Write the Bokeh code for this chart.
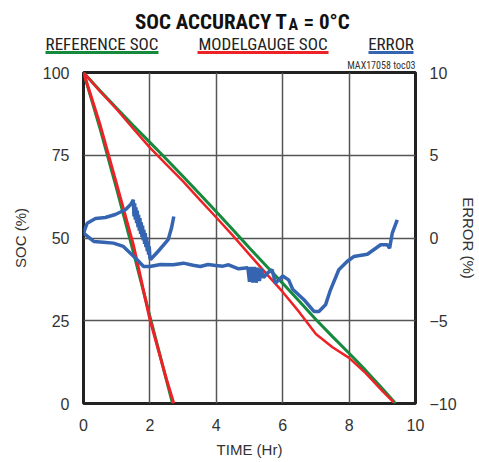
from bokeh.plotting import figure
from bokeh.layouts import column
from bokeh.models import Range1d, LinearAxis, FixedTicker, Title
from bokeh.core.properties import value
from bokeh.embed import file_html
from bokeh.resources import INLINE

# ---------------- data ----------------
# slow discharge (approx. 9.4 h)
t_ref_slow = [0, 0.5, 1.0, 1.5, 2.0, 2.5, 3.0, 3.5, 4.0, 4.5, 5.0, 5.5, 6.0, 6.5, 7.0, 7.5, 8.0, 8.5, 9.0, 9.4]
soc_ref_slow = [100, 94.5, 89.2, 84.0, 78.9, 73.8, 68.6, 63.3, 57.9, 52.5, 47.0, 41.6, 36.3, 30.9, 25.4, 20.2, 15.2, 10.0, 4.5, 0]
t_mg_slow = [0, 0.5, 1.0, 1.5, 2.0, 2.5, 3.0, 3.5, 4.0, 4.5, 5.0, 5.5, 6.0, 6.5, 7.0, 7.5, 8.0, 8.5, 9.0, 9.35]
soc_mg_slow = [100, 94.3, 88.9, 83.0, 77.3, 72.2, 67.1, 61.6, 56.2, 50.7, 45.0, 39.3, 33.7, 27.6, 21.0, 17.0, 13.8, 9.2, 3.8, 0.3]

# fast discharge (approx. 2.7 h)
t_ref_fast = [0, 0.5, 1.0, 1.5, 2.0, 2.5, 2.68]
soc_ref_fast = [100, 83.0, 64.8, 45.8, 26.3, 7.0, 0]
t_mg_fast = [0, 0.5, 1.0, 1.5, 2.0, 2.5, 2.72]
soc_mg_fast = [100, 84.2, 66.2, 48.0, 25.4, 7.3, 0]

# error curves (%)
t_err_slow = [0, 0.31, 0.6, 0.9, 1.2, 1.57, 1.81, 2.0, 2.32, 2.7, 3.01, 3.3, 3.52, 3.75, 3.98, 4.2, 4.37, 4.67,
              4.95, 5.00, 5.05, 5.10, 5.15, 5.20, 5.25, 5.30, 5.35, 5.42, 5.55, 5.68, 5.78, 6.0, 6.18, 6.3, 6.64, 6.94,
              7.09, 7.29, 7.44, 7.69, 7.94, 8.14, 8.55, 8.95, 9.15, 9.22, 9.30, 9.45]
e_err_slow = [0.29, -0.21, -0.25, -0.31, -0.51, -1.22, -1.72, -1.72, -1.60, -1.62, -1.52, -1.65, -1.72, -1.60, -1.66, -1.70, -1.62, -1.86,
              -1.80, -2.65, -1.75, -2.70, -1.75, -2.70, -1.80, -2.60, -1.85, -2.40, -2.10, -1.92, -2.73, -2.30, -2.53, -3.10, -3.73, -4.44,
              -4.44, -4.04, -3.13, -1.92, -1.42, -1.12, -0.98, -0.41, -0.41, -0.62, 0.29, 1.10]
t_err_fast = [0, 0.11, 0.36, 0.66, 0.96, 1.27, 1.42,
              1.50, 1.52, 1.54, 1.56, 1.58, 1.60, 1.62, 1.64, 1.66, 1.68, 1.70, 1.72, 1.74, 1.76, 1.78, 1.80,
              1.82, 1.84, 1.86, 1.88, 1.90, 1.92, 1.94, 1.96, 1.98, 2.00, 2.02,
              2.25, 2.55, 2.65, 2.72]
e_err_fast = [0.29, 0.89, 1.18, 1.24, 1.42, 1.72, 2.02,
              2.31, 1.30, 2.10, 1.10, 1.85, 0.90, 1.65, 0.65, 1.40, 0.45, 1.20, 0.25, 0.95, 0.05, 0.75, -0.15,
              0.50, -0.35, 0.30, -0.55, 0.05, -0.80, -0.20, -1.00, -0.50, -1.20, -1.30,
              -0.80, -0.10, 0.60, 1.30]

x_ticks = [0, 2, 4, 6, 8, 10]
soc_ticks = [0, 25, 50, 75, 100]
err_ticks = [-10, -5, 0, 5, 10]

legend_labels = ["REFERENCE SOC", "MODELGAUGE SOC", "ERROR"]

# ---------------- styling ----------------
FONT = "Liberation Sans"
NARROW = "Roboto Condensed, Liberation Sans, sans-serif"
GREEN = "#15893c"
RED = "#ec2227"
BLUE = "#3565b1"
TICK_COLOR = "#333333"

# ---------------- header (title + legend), pixel coordinates ----------------
h = figure(width=479, height=56, output_backend="svg", toolbar_location=None,
           x_range=Range1d(0, 479), y_range=Range1d(56, 0),
           x_axis_type=None, y_axis_type=None, min_border=0, frame_align=False)
h.outline_line_color = None
h.grid.visible = False

h.text(x=[287], y=[21.5], text=["SOC ACCURACY T"], text_font=value(NARROW), text_font_size="21px",
       text_font_style="bold", text_align="right", text_baseline="alphabetic", text_color="#111111")
h.text(x=[288], y=[23.5], text=["A"], text_font=value(NARROW), text_font_size="16px",
       text_font_style="bold", text_align="left", text_baseline="alphabetic", text_color="#111111")
h.text(x=[303], y=[21.5], text=["= 0°C"], text_font=value(NARROW), text_font_size="21px",
       text_font_style="bold", text_align="left", text_baseline="alphabetic", text_color="#111111")

leg_cx = [101.5, 262.5, 390.5]
leg_x0 = [45, 197, 368]
leg_x1 = [158, 328, 413]
leg_col = [GREEN, RED, BLUE]
h.text(x=leg_cx, y=[43, 43, 43], text=legend_labels, text_font=value(NARROW), text_font_size="17px",
       text_align="center", text_baseline="alphabetic", text_color="#222222")
h.segment(x0=leg_x0, x1=leg_x1, y0=[52, 52, 52], y1=[52, 52, 52], line_color=leg_col, line_width=3)

# ---------------- main plot ----------------
p = figure(frame_width=332, frame_height=331, output_backend="svg", toolbar_location=None,
           x_range=Range1d(0, 10), y_range=Range1d(0, 100), frame_align=False,
           min_border_left=83, min_border_right=64, min_border_top=15, min_border_bottom=60)
p.extra_y_ranges = {"err": Range1d(-10, 10)}

p.outline_line_color = "#222222"
p.outline_line_width = 3

note = Title(text="MAX17058 toc03", align="right", text_font=NARROW, text_font_size="10px",
             text_font_style="normal", text_color="#333333", standoff=3, offset=0)
p.add_layout(note, "above")

p.xaxis.ticker = FixedTicker(ticks=x_ticks)
p.yaxis.ticker = FixedTicker(ticks=soc_ticks)
p.xaxis.axis_label = "TIME (Hr)"
p.yaxis.axis_label = "SOC (%)"

right = LinearAxis(y_range_name="err", ticker=FixedTicker(ticks=err_ticks), axis_label="ERROR (%)")
p.add_layout(right, "right")

for ax in [p.xaxis[0], p.yaxis[0], right]:
    ax.axis_line_color = None
    ax.major_tick_line_color = None
    ax.minor_tick_line_color = None
    ax.major_tick_out = 0
    ax.major_tick_in = 0
    ax.major_label_text_font = FONT
    ax.major_label_text_font_size = "16px"
    ax.major_label_text_color = TICK_COLOR
    ax.axis_label_text_font = FONT
    ax.axis_label_text_font_size = "15px"
    ax.axis_label_text_font_style = "normal"
    ax.axis_label_text_color = TICK_COLOR

p.xaxis.major_label_standoff = 15
p.xaxis.axis_label_standoff = 7
p.yaxis.major_label_standoff = 14
p.yaxis.axis_label_standoff = 11
right.major_label_standoff = 14
right.axis_label_standoff = 0

p.xgrid.ticker = FixedTicker(ticks=[2, 4, 6, 8])
p.ygrid.ticker = FixedTicker(ticks=[25, 50, 75])
p.grid.grid_line_color = "#555555"
p.grid.grid_line_width = 1.5

p.line(t_ref_slow, soc_ref_slow, line_color=GREEN, line_width=3)
p.line(t_ref_fast, soc_ref_fast, line_color=GREEN, line_width=3)
p.line(t_mg_slow, soc_mg_slow, line_color=RED, line_width=2.5)
p.line(t_mg_fast, soc_mg_fast, line_color=RED, line_width=3)
p.line(t_err_slow, e_err_slow, line_color=BLUE, line_width=3.5, y_range_name="err")
p.line(t_err_fast, e_err_fast, line_color=BLUE, line_width=3.5, y_range_name="err")

layout = column(h, p, spacing=0)
open("out.html", "w").write(file_html(layout, INLINE))
